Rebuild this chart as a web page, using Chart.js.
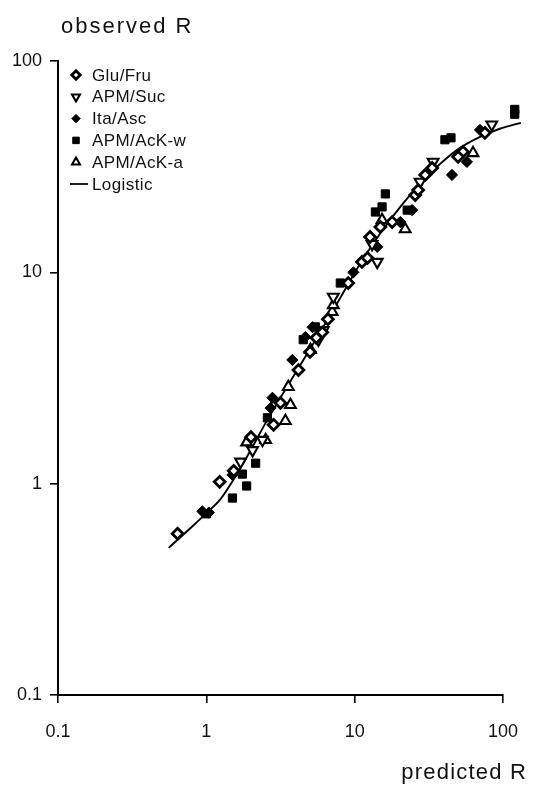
<!DOCTYPE html>
<html><head><meta charset="utf-8">
<script src="https://cdn.jsdelivr.net/npm/chart.js@4"></script>
<style>
html,body{margin:0;padding:0;background:#fff;}
#wrap{position:relative;width:540px;height:787px;overflow:hidden;}
canvas{position:absolute;left:0;top:0;}
.t{position:absolute;font-family:'Liberation Sans',Arial,sans-serif;font-size:22px;color:#111;white-space:nowrap;}
</style></head><body>
<div id="wrap"><canvas id="c" width="540" height="787"></canvas>
<div class="t" style="left:61px;top:13px;letter-spacing:2px;">observed R</div>
<div class="t" style="right:13px;top:759px;letter-spacing:1.2px;">predicted R</div>
</div>
<script>
// ---- data ----
const xTicks = [0.1, 1, 10, 100];
const yTicks = [0.1, 1, 10, 100];
const seriesNames = ['Glu/Fru', 'APM/Suc', 'Ita/Asc', 'APM/AcK-w', 'APM/AcK-a', 'Logistic'];

const gluFruX = [0.64, 1.23, 1.53, 2.0, 3.16, 4.18, 5.0, 6.05, 6.6, 9.05, 11.2, 12.2, 12.7, 14.9, 17.9, 25.6, 26.8, 29.9, 33.3, 53.7, 75.5, 49.8, 2.84, 5.52];
const gluFruY = [0.58, 1.02, 1.15, 1.66, 2.41, 3.45, 4.2, 5.2, 6.0, 8.9, 11.2, 11.7, 14.7, 16.4, 17.3, 23.2, 24.5, 28.9, 31.2, 37.2, 45.7, 35.2, 1.9, 4.9];

const apmSucX = [2.05, 2.39, 6.15, 7.18, 14.2, 27.6, 33.8, 84, 5.7, 1.7, 13.1];
const apmSucY = [1.44, 1.61, 5.33, 7.66, 11.2, 26.8, 33.3, 50, 4.8, 1.27, 13.6];

const itaAscX = [0.94, 1.04, 1.5, 2.79, 2.71, 3.8, 5.2, 9.8, 14.2, 20.3, 24.4, 45.3, 57.1, 70, 4.65, 31.3];
const itaAscY = [0.74, 0.73, 1.1, 2.55, 2.28, 3.85, 5.5, 10.0, 13.2, 17.3, 19.7, 28.9, 33.3, 47.2, 4.94, 29.9];

const ackWX = [1.0, 1.5, 1.87, 1.75, 2.15, 2.58, 4.5, 8.0, 13.8, 15.3, 16.1, 22.6, 40.6, 44.6, 120, 120, 5.43];
const ackWY = [0.72, 0.855, 0.975, 1.11, 1.25, 2.05, 4.8, 8.9, 19.3, 20.4, 23.5, 19.7, 42.4, 43.3, 56, 59, 5.52];

const ackAX = [2.51, 3.41, 3.57, 3.69, 7.06, 7.18, 15.3, 21.9, 62.8, 1.87, 5.03];
const ackAY = [1.61, 1.98, 2.87, 2.36, 6.5, 7.0, 17.7, 16.0, 36.7, 1.57, 4.3];

const logisticX = [0.557, 0.783, 0.989, 1.25, 1.57, 1.99, 2.51, 3.16, 4.31, 5.88, 8.0, 10.9, 14.9, 20.3, 27.6, 37.7, 51.3, 70.0, 95.3, 132];
const logisticY = [0.497, 0.617, 0.720, 0.847, 1.08, 1.44, 1.94, 2.55, 3.65, 5.23, 7.57, 11.0, 15.3, 20.4, 26.2, 32.6, 38.8, 43.8, 47.8, 51.0];

// ---- chart ----
const FONT = "'Liberation Sans', Arial, sans-serif";
const pts = (xs, ys) => xs.map((x, i) => ({x: x, y: ys[i]}));

function marker(ctx, style, rot, r, x, y, fill, bw) {
  ctx.save();
  ctx.translate(x, y);
  ctx.rotate(rot * Math.PI / 180);
  ctx.beginPath();
  if (style === 'rectRot') {
    ctx.moveTo(0, -r); ctx.lineTo(r, 0); ctx.lineTo(0, r); ctx.lineTo(-r, 0); ctx.closePath();
  } else if (style === 'triangle') {
    ctx.moveTo(0, -r); ctx.lineTo(r * 0.866, r * 0.5); ctx.lineTo(-r * 0.866, r * 0.5); ctx.closePath();
  } else {
    const h = r * 0.707; ctx.rect(-h, -h, 2 * h, 2 * h);
  }
  ctx.fillStyle = fill; ctx.fill();
  if (bw > 0) { ctx.lineWidth = bw; ctx.strokeStyle = '#000'; ctx.stroke(); }
  ctx.restore();
}

// let points that lie just beyond the axis end (as in the reference) be drawn
const overflowPlugin = {
  id: 'overflow',
  beforeDatasetsDraw(chart) {
    const a = chart.chartArea;
    chart._savedArea = {left: a.left, right: a.right, top: a.top, bottom: a.bottom};
    a.right += 36; a.top -= 40;
  },
  afterDatasetsDraw(chart) {
    const a = chart.chartArea, s = chart._savedArea;
    a.left = s.left; a.right = s.right; a.top = s.top; a.bottom = s.bottom;
  }
};

const legendPlugin = {
  id: 'insideLegend',
  afterDraw(chart) {
    const ctx = chart.ctx;
    ctx.save();
    ctx.font = '17px ' + FONT;
    ctx.textBaseline = 'middle';
    if ('letterSpacing' in ctx) ctx.letterSpacing = '0.4px';
    chart.data.datasets.forEach((ds, i) => {
      const y = 75 + i * 21.8;
      if (ds.showLine) {
        ctx.strokeStyle = '#000'; ctx.lineWidth = 1.8;
        ctx.beginPath(); ctx.moveTo(70, y); ctx.lineTo(88, y); ctx.stroke();
      } else {
        marker(ctx, ds.pointStyle, ds.pointRotation || 0, ds.legendR, 76, y, ds.pointBackgroundColor, ds.pointBorderWidth);
      }
      ctx.fillStyle = '#111';
      ctx.fillText(ds.label, 92, y + 1);
    });
    ctx.restore();
  }
};

const axisCommon = {
  type: 'logarithmic', min: 0.1, max: 100,
  border: {display: true, color: '#000', width: 2},
  grid: {drawOnChartArea: false, drawTicks: true, tickLength: 8, color: '#000', lineWidth: 1.6},
  ticks: {color: '#111', font: {size: 18, family: FONT}, autoSkip: false, maxRotation: 0,
          callback: v => String(v)}
};

new Chart(document.getElementById('c'), {
  type: 'scatter',
  data: {
    datasets: [
      {label: seriesNames[0], data: pts(gluFruX, gluFruY), pointStyle: 'rectRot', pointRadius: 5.4,
       pointBorderWidth: 2.8, pointBorderColor: '#000', pointBackgroundColor: '#fff', legendR: 4.2, clip: false},
      {label: seriesNames[1], data: pts(apmSucX, apmSucY), pointStyle: 'triangle', pointRotation: 180, pointRadius: 6.2,
       pointBorderWidth: 2.1, pointBorderColor: '#000', pointBackgroundColor: '#fff', legendR: 4.6, clip: false},
      {label: seriesNames[2], data: pts(itaAscX, itaAscY), pointStyle: 'rectRot', pointRadius: 5.6,
       pointBorderWidth: 1, pointBorderColor: '#000', pointBackgroundColor: '#000', legendR: 4.2, clip: false},
      {label: seriesNames[3], data: pts(ackWX, ackWY), pointStyle: 'rect', pointRadius: 5.8,
       pointBorderWidth: 1, pointBorderColor: '#000', pointBackgroundColor: '#000', legendR: 4.6, clip: false},
      {label: seriesNames[4], data: pts(ackAX, ackAY), pointStyle: 'triangle', pointRadius: 6.2,
       pointBorderWidth: 2.1, pointBorderColor: '#000', pointBackgroundColor: '#fff', legendR: 4.6, clip: false},
      {label: seriesNames[5], data: pts(logisticX, logisticY), showLine: true, pointRadius: 0,
       borderColor: '#000', borderWidth: 1.9, cubicInterpolationMode: 'monotone', clip: false}
    ]
  },
  options: {
    responsive: false, animation: false, devicePixelRatio: 1,
    layout: {padding: {top: 61, right: 37, left: 0, bottom: 0}},
    plugins: {legend: {display: false}, tooltip: {enabled: false}},
    scales: {
      x: Object.assign({}, axisCommon, {
        position: 'bottom',
        ticks: Object.assign({}, axisCommon.ticks, {padding: 18}),
        afterBuildTicks: s => { s.ticks = xTicks.map(v => ({value: v})); },
        afterFit: s => { s.height = 92; }
      }),
      y: Object.assign({}, axisCommon, {
        position: 'left',
        ticks: Object.assign({}, axisCommon.ticks, {padding: 8}),
        afterBuildTicks: s => { s.ticks = yTicks.map(v => ({value: v})); },
        afterFit: s => { s.width = 58; }
      })
    }
  },
  plugins: [overflowPlugin, legendPlugin]
});
</script>
</body></html>
